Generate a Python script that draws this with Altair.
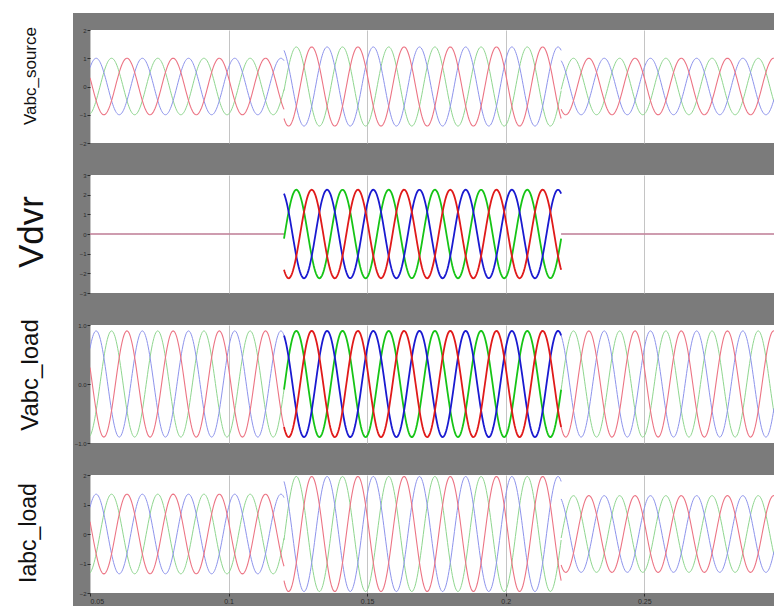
import numpy as np
import pandas as pd
import altair as alt

# ---------------- values ----------------
PANEL_NAMES = ["Vabc_source", "Vdvr", "Vabc_load", "Iabc_load"]
T_MIN, T_MAX = 0.05, 0.2968          # visible time window (s)
X_TICKS = [0.05, 0.1, 0.15, 0.2, 0.25]
FREQ_HZ = 60
EVENT_START, EVENT_END = 0.12, 0.22  # disturbance / compensation window
RED_PEAK_T = 0.13                    # a red-phase peak
PHASE_NAMES = ["green", "blue", "red"]      # drawing order (red on top)
PHASE_SHIFT_DEG = [120, -120, 0]
AMP_BEFORE = [1.0, 0.0, 0.9, 1.35]
AMP_DURING = [1.4, 2.25, 0.9, 1.95]
AMP_AFTER = [1.0, 0.0, 0.9, 1.3]
STYLE_BEFORE = ["faint", "faint", "faint", "faint"]
STYLE_DURING = ["faint", "strong", "strong", "faint"]
STYLE_AFTER = ["faint", "faint", "faint", "faint"]
Y_DOMAINS = [[-2, 2], [-3, 3], [-1, 1], [-2, 2]]
Y_TICKS = [[-2, -1, 0, 1, 2], [-3, -2, -1, 0, 1, 2, 3], [-1, 0, 1], [-2, -1, 0, 1, 2]]

# ---------------- layout / style ----------------
PLOT_W = 684
HEIGHTS = [113, 118, 118, 118]
GAP = 32
LABEL_FONT = [17, 35, 24, 23]
LABEL_X = [-59, -58, -59, -61]
LABEL_Y = [46, 57, 50, 58]
GRAY = "#7b7b7b"
FAINT = {"green": "#8fd68f", "blue": "#8e94ec", "red": "#ec7484"}
STRONG = {"green": "#16c416", "blue": "#1a1ad0", "red": "#e01a1a"}
STEP = 0.00025

COLOR_KEYS = [f"{s}-{p}" for s in ["faint", "strong"] for p in PHASE_NAMES]
COLOR_VALS = [(FAINT if s == "faint" else STRONG)[p] for s in ["faint", "strong"] for p in PHASE_NAMES]


def panel_frame(i):
    segs = [
        (T_MIN, EVENT_START, AMP_BEFORE[i], STYLE_BEFORE[i]),
        (EVENT_START, EVENT_END, AMP_DURING[i], STYLE_DURING[i]),
        (EVENT_END, T_MAX, AMP_AFTER[i], STYLE_AFTER[i]),
    ]
    frames = []
    for s, (a, b, amp, style) in enumerate(segs):
        t = np.append(np.arange(a, b, STEP), b)
        for name, shift in zip(PHASE_NAMES, PHASE_SHIFT_DEG):
            v = amp * np.cos(2 * np.pi * FREQ_HZ * (t - RED_PEAK_T) + np.radians(shift))
            frames.append(pd.DataFrame({
                "t": np.round(t, 5),
                "v": np.round(v, 4),
                "grp": f"{s}-{name}",
                "ckey": f"{style}-{name}",
                "style": style,
                "phase": name,
            }))
    return pd.concat(frames, ignore_index=True)


def make_panel(i):
    H = HEIGHTS[i]
    last = i == len(PANEL_NAMES) - 1
    df = panel_frame(i)
    x_enc = alt.X("t:Q", scale=alt.Scale(domain=[T_MIN, T_MAX], nice=False, zero=False),
                  axis=alt.Axis(values=X_TICKS, grid=True, gridColor="#c4c4c4", gridWidth=1,
                                domain=False, ticks=last, tickSize=3, tickColor="#2b2b2b",
                                labels=last, labelFontSize=7, labelColor="#2b2b2b",
                                labelPadding=1, format="~g", title=None))
    y_enc = alt.Y("v:Q", scale=alt.Scale(domain=Y_DOMAINS[i], nice=False, zero=False),
                  axis=alt.Axis(values=Y_TICKS[i], grid=False, domain=False, tickSize=3,
                                tickColor="#2b2b2b", labelFontSize=6, labelColor="#2b2b2b",
                                labelPadding=1, title=None))
    color_enc = alt.Color("ckey:N", scale=alt.Scale(domain=COLOR_KEYS, range=COLOR_VALS), legend=None)
    base = alt.Chart(df).encode(x=x_enc, y=y_enc, detail="grp:N", color=color_enc)
    faint_other = base.transform_filter(
        (alt.datum.style == "faint") & (alt.datum.phase != "red")).mark_line(strokeWidth=1, clip=True)
    faint_red = base.transform_filter(
        (alt.datum.style == "faint") & (alt.datum.phase == "red")).mark_line(strokeWidth=1.1, clip=True)
    strong = base.transform_filter(alt.datum.style == "strong").mark_line(strokeWidth=1.8, clip=True)

    one = pd.DataFrame({"k": [0]})
    top = -22 if i == 0 else -GAP / 2
    bottom = H + 13 if last else H + GAP / 2
    white_left = alt.Chart(one).mark_rect(color="white").encode(
        x=alt.value(-82), x2=alt.value(-17), y=alt.value(top), y2=alt.value(bottom))
    layers = [white_left]
    if i == 0:
        layers.append(alt.Chart(one).mark_rect(color="white").encode(
            x=alt.value(-82), x2=alt.value(PLOT_W), y=alt.value(-22), y2=alt.value(-17)))
    label = alt.Chart(pd.DataFrame({"name": [PANEL_NAMES[i]]})).mark_text(
        angle=270, fontSize=LABEL_FONT[i], font="Liberation Sans", color="#111111",
        align="center", baseline="middle").encode(
        x=alt.value(LABEL_X[i]), y=alt.value(LABEL_Y[i]), text="name:N")
    layers += [label, faint_other, faint_red, strong]
    return alt.layer(*layers).properties(width=PLOT_W, height=H)


chart = alt.vconcat(*[make_panel(i) for i in range(len(PANEL_NAMES))],
                    spacing=GAP, bounds="flush").properties(padding=0).configure(
    background=GRAY).configure_view(fill="white", strokeWidth=0)

chart.save("out.html", embed_options={"renderer": "svg", "actions": False})
